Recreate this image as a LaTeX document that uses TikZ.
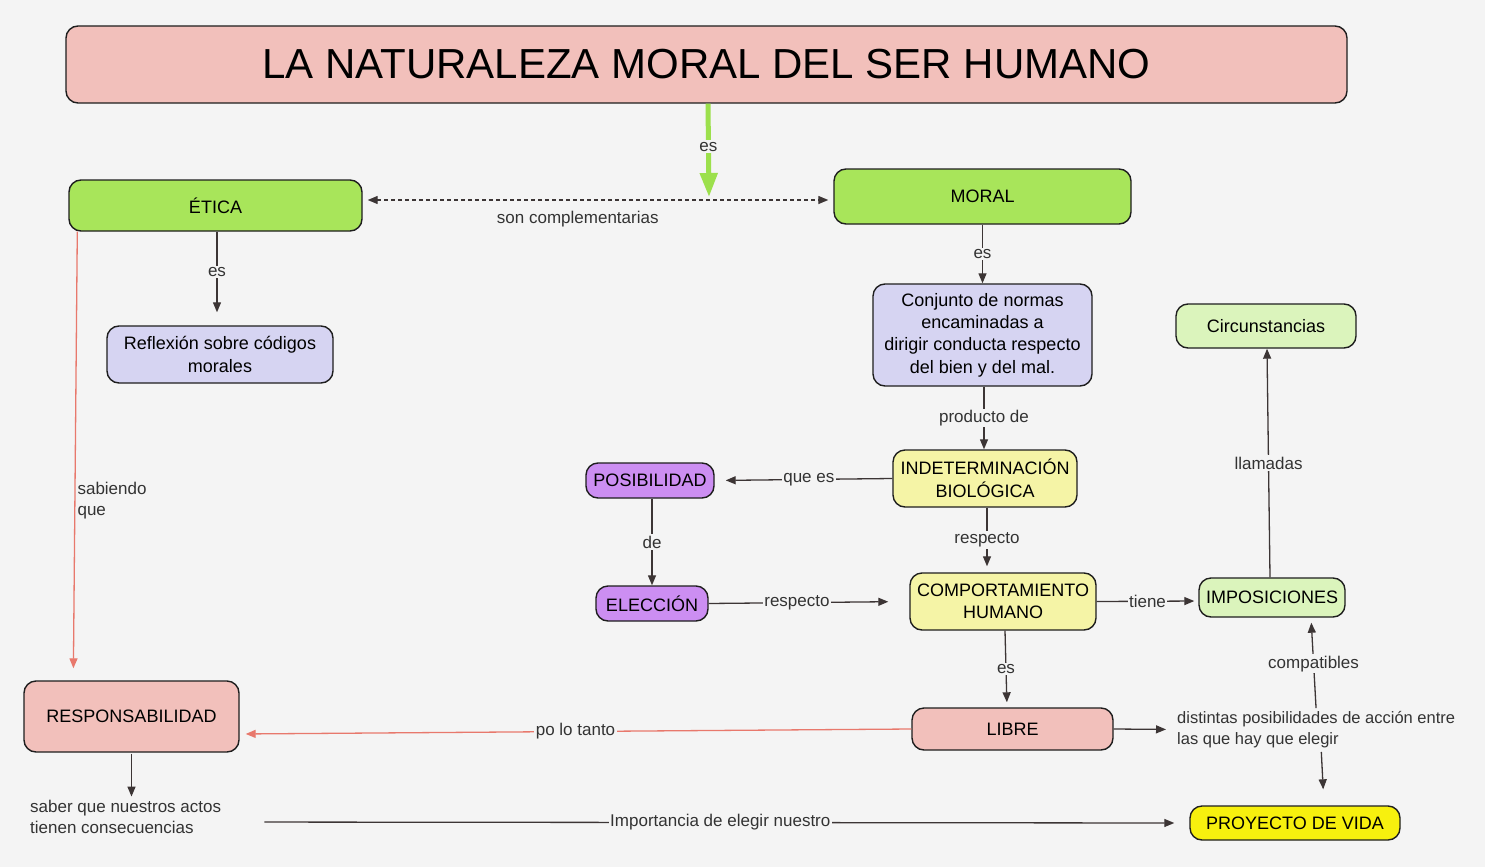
\documentclass[tikz,border=0pt]{standalone}
\usepackage{fontspec}
\setmainfont{Liberation Sans}
\usetikzlibrary{arrows.meta,calc}
\definecolor{bg}{HTML}{F4F4F4}
\definecolor{pinkc}{HTML}{F2C0BB}
\definecolor{greenc}{HTML}{A8E55A}
\definecolor{lavc}{HTML}{D6D4F2}
\definecolor{lyelc}{HTML}{F5F4A6}
\definecolor{purpc}{HTML}{CC8EF2}
\definecolor{lgreenc}{HTML}{DBF4BC}
\definecolor{yelc}{HTML}{F7F00E}
\definecolor{salmon}{HTML}{E8786C}
\definecolor{garrow}{HTML}{9CE04C}
\definecolor{linec}{HTML}{3C3535}
\definecolor{boxline}{HTML}{1E1E1E}
\definecolor{lbltext}{HTML}{333333}
\begin{document}
\begin{tikzpicture}[x=1pt,y=-1pt,
  box/.style={draw=boxline, line width=1.4pt, rounded corners=12pt, align=center,
    inner sep=2pt, font=\fontsize{18}{22.5}\selectfont, text=black},
  lbl/.style={fill=bg, inner sep=1.5pt, text=lbltext, font=\fontsize{17}{21}\selectfont},
  plain/.style={inner sep=1pt, align=left, text=lbltext, font=\fontsize{17}{21}\selectfont},
  conn/.style={draw=linec, line width=1.3pt, -{Triangle[length=10pt,width=8pt]}},
  redconn/.style={draw=salmon, line width=1.3pt, -{Triangle[length=10pt,width=8pt]}},
  dashconn/.style={draw=linec, line width=1.3pt, dash pattern=on 4pt off 3pt,
    {Triangle[length=10pt,width=8pt]}-{Triangle[length=10pt,width=8pt]}},
  greenconn/.style={draw=garrow, line width=5pt, -{Triangle[length=24pt,width=17pt]}}
]
\useasboundingbox (0,0) rectangle (1485,867);
\fill[bg] (0,0) rectangle (1485,867);

% nodes
\node[box, fill=pinkc, minimum width=1281pt, minimum height=77pt,
  font=\fontsize{42}{50}\selectfont] (title) at (706.5,64.5) {LA NATURALEZA MORAL DEL SER HUMANO};
\node[box, fill=greenc, minimum width=293pt, minimum height=51pt] (etica) at (215.5,205.5) {ÉTICA};
\node[box, fill=greenc, minimum width=297pt, minimum height=55pt] (moral) at (982.5,196.5) {MORAL};
\node[box, fill=lavc, minimum width=226pt, minimum height=57pt] (reflex) at (220,354.5) {Reflexión sobre códigos\\morales};
\node[box, fill=lavc, minimum width=219pt, minimum height=102pt,
  font=\fontsize{18}{22.3}\selectfont] (conj) at (982.5,335) {Conjunto de normas\\encaminadas a\\dirigir conducta respecto\\del bien y del mal.};
\node[box, fill=lgreenc, minimum width=180pt, minimum height=44pt] (circ) at (1266,326) {Circunstancias};
\node[box, fill=lyelc, minimum width=184pt, minimum height=57pt] (indet) at (985,478.5) {INDETERMINACIÓN\\BIOLÓGICA};
\node[box, fill=purpc, minimum width=128pt, minimum height=35pt] (posib) at (650,480.5) {POSIBILIDAD};
\node[box, fill=purpc, minimum width=112pt, minimum height=35pt] (elecc) at (652,603.5) {ELECCIÓN};
\node[box, fill=lyelc, minimum width=186pt, minimum height=57pt] (comp) at (1003,601.5) {COMPORTAMIENTO\\HUMANO};
\node[box, fill=lgreenc, minimum width=146pt, minimum height=39pt] (impos) at (1272,597.5) {IMPOSICIONES};
\node[box, fill=pinkc, minimum width=201pt, minimum height=42pt] (libre) at (1012.5,729) {LIBRE};
\node[box, fill=pinkc, minimum width=215pt, minimum height=71pt] (resp) at (131.5,716.5) {RESPONSABILIDAD};
\node[box, fill=yelc, minimum width=210pt, minimum height=34pt] (proy) at (1295,823) {PROYECTO DE VIDA};
\node[plain, anchor=west] (saber) at (29,816.5) {saber que nuestros actos\\tienen consecuencias};
\node[plain, anchor=west, font=\fontsize{16.5}{21}\selectfont] (dist) at (1176,729.5) {distintas posibilidades de acción entre\\las que hay que elegir};
\coordinate (gtip) at (709,197);

% connectors
\draw[greenconn] ([xshift=1.5pt]title.south) -- (gtip) node[lbl, pos=0.46] {es};
\draw[dashconn, shorten <=5pt, shorten >=5pt] ([yshift=5.5pt]etica.east) -- ([yshift=-3.5pt]moral.west)
  node[lbl, fill=none, pos=0.457, below=9pt] {son complementarias};
\draw[conn, shorten >=13pt] ([xshift=1.5pt]etica.south) -- ([xshift=-3pt]reflex.north) node[lbl, pos=0.43] {es};
\draw[redconn, shorten >=12pt] ([xshift=9pt]etica.south west) -- ([xshift=50pt]resp.north west)
  node[plain, pos=0.6, anchor=west, xshift=1pt] {sabiendo\\que};
\draw[conn] (moral.south) -- (conj.north) node[lbl, midway] {es};
\draw[conn] ([xshift=1.5pt]conj.south) -- ([xshift=-1pt]indet.north) node[lbl, midway] {producto de};
\draw[conn, shorten >=11pt] (indet.west) -- (posib.east) node[lbl, pos=0.47] {que es};
\draw[conn] ([xshift=2pt]posib.south) -- (elecc.north) node[lbl, midway] {de};
\draw[conn, shorten >=6pt] ([xshift=2pt]indet.south) -- ([xshift=-16pt]comp.north) node[lbl, midway] {respecto};
\draw[conn, shorten >=21pt] (elecc.east) -- (comp.west) node[lbl, pos=0.44] {respecto};
\draw[conn, shorten >=4pt] (comp.east) -- ([yshift=-3.5pt]impos.west) node[lbl, midway] {tiene};
\draw[conn] ([xshift=-2pt]impos.north) -- ([xshift=1pt]circ.south) node[lbl, midway] {llamadas};
\draw[conn, shorten >=5pt] ([xshift=2pt]comp.south) -- ([xshift=-5.5pt]libre.north) node[lbl, midway] {es};
\draw[redconn, shorten >=6pt] (libre.west) -- ([yshift=-17.5pt]resp.east) node[lbl, midway] {po lo tanto};
\draw[conn, shorten >=10pt] (libre.east) -- (dist.west);
\draw[conn, shorten <=2pt, shorten >=5pt] (dist.north) -- ([xshift=39pt]impos.south) node[lbl, midway] {compatibles};
\draw[conn, shorten <=3pt, shorten >=16pt] ([xshift=5pt]dist.south) -- ([xshift=29pt]proy.north);
\draw[conn, shorten <=1pt, shorten >=2pt] (resp.south) -- (resp.south |- saber.north);
\draw[conn, shorten <=42pt, shorten >=15pt] ([yshift=-5.5pt]saber.east) -- (proy.west)
  node[lbl, pos=0.515] {Importancia de elegir nuestro};
\end{tikzpicture}
\end{document}
